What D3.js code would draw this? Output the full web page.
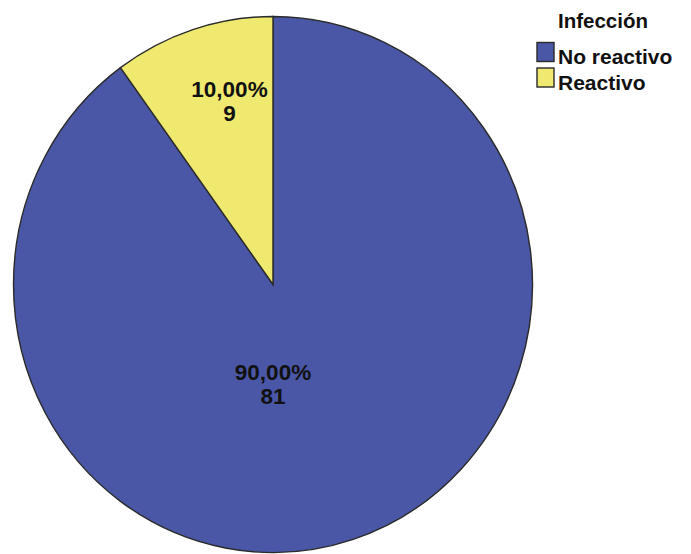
<!DOCTYPE html>
<html>
<head>
<meta charset="utf-8">
<script src="https://cdn.jsdelivr.net/npm/d3@7"></script>
<style>
  html, body { margin: 0; padding: 0; background: #fff; }
  svg text { font-family: "Liberation Sans", Arial, sans-serif; font-weight: bold; fill: #111; }
</style>
</head>
<body>
<svg id="chart" width="691" height="554"></svg>
<script>
// Infección: no reactivo / reactivo
const legendTitle = "Infección";
const categories = ["No reactivo", "Reactivo"];
const counts = [81, 9];
const percentLabels = ["90,00%", "10,00%"];
const colors = ["#4A57A6", "#EFE96F"];

const svg = d3.select("#chart");
const cx = 273, cy = 284.5, rx = 259.5, ry = 268;

const data = categories.map((c, i) => ({ cat: c, n: counts[i], pct: percentLabels[i], color: colors[i] }));

// slices run clockwise from 12 o'clock, so "Reactivo" ends just left of the top
const pie = d3.pie().sort(null).value(d => d.n)
  .startAngle(0).endAngle(2 * Math.PI);
const arcs = pie(data);
const arc = d3.arc().innerRadius(0).outerRadius(rx);

const g = svg.append("g")
  .attr("transform", `translate(${cx},${cy}) scale(1,${ry / rx})`);

g.selectAll("path.slice")
  .data(arcs)
  .join("path")
  .attr("class", "slice")
  .attr("d", arc)
  .attr("fill", d => d.data.color)
  .attr("stroke", "#2a2a2a")
  .attr("stroke-width", 1.4)
  .attr("vector-effect", "non-scaling-stroke");

// label anchors (fraction of radius, angle) for each slice
const labelAnchor = {
  "No reactivo": { r: 0.355, a: Math.PI },
  "Reactivo": { r: 0.72, a: -0.235 }
};
const fs = 22.5;
arcs.forEach(d => {
  const la = labelAnchor[d.data.cat];
  const x = cx + Math.sin(la.a) * la.r * rx;
  const y = cy - Math.cos(la.a) * la.r * ry;
  const t = svg.append("text")
    .attr("x", x).attr("y", y)
    .attr("text-anchor", "middle")
    .style("font-size", fs + "px");
  t.append("tspan").attr("x", x).attr("dy", 0).text(d.data.pct);
  t.append("tspan").attr("x", x).attr("dy", 24).text(d.data.n);
});

// legend
const lg = svg.append("g").attr("transform", "translate(536,0)");
lg.append("text")
  .attr("x", 67).attr("y", 28)
  .attr("text-anchor", "middle")
  .style("font-size", "20.5px")
  .text(legendTitle);
const items = lg.selectAll("g.item")
  .data(data)
  .join("g")
  .attr("class", "item")
  .attr("transform", (d, i) => `translate(0,${42 + i * 25.5})`);
items.append("rect")
  .attr("x", 1).attr("y", 0.5)
  .attr("width", 17).attr("height", 19)
  .attr("fill", d => d.color)
  .attr("stroke", "#2a2a2a")
  .attr("stroke-width", 1.4);
items.append("text")
  .attr("x", 22).attr("y", 22)
  .style("font-size", "21px")
  .text(d => d.cat);
</script>
</body>
</html>
